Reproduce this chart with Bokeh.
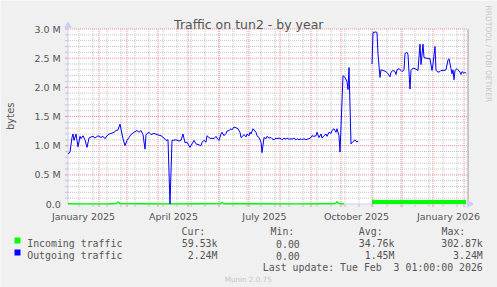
import math
import pandas as pd
from bokeh.plotting import figure
from bokeh.models import Range1d, Label, BoxAnnotation
from bokeh.core.properties import value
from bokeh.embed import file_html
from bokeh.resources import INLINE

# ---------------- data ----------------
out_dates_1 = [
    "2025-01-01", "2025-01-03", "2025-01-05", "2025-01-06", "2025-01-07", "2025-01-09", "2025-01-11", "2025-01-13",
    "2025-01-14", "2025-01-16", "2025-01-18", "2025-01-20", "2025-01-22", "2025-01-24", "2025-01-26", "2025-01-28", "2025-01-31",
    "2025-02-03", "2025-02-05", "2025-02-07", "2025-02-09", "2025-02-11", "2025-02-13", "2025-02-16", "2025-02-18",
    "2025-02-20", "2025-02-22", "2025-02-24", "2025-02-25", "2025-02-27",
    "2025-03-01", "2025-03-03", "2025-03-05", "2025-03-08", "2025-03-11", "2025-03-13", "2025-03-15", "2025-03-17",
    "2025-03-19", "2025-03-20", "2025-03-23", "2025-03-25", "2025-03-28", "2025-03-31",
    "2025-04-04", "2025-04-07", "2025-04-09", "2025-04-11", "2025-04-13", "2025-04-15", "2025-04-19", "2025-04-22",
    "2025-04-24", "2025-04-26", "2025-04-28", "2025-04-30",
    "2025-05-03", "2025-05-05", "2025-05-07", "2025-05-09", "2025-05-11", "2025-05-14", "2025-05-15", "2025-05-17",
    "2025-05-19", "2025-05-20", "2025-05-22", "2025-05-24", "2025-05-25", "2025-05-27", "2025-05-29", "2025-05-30",
    "2025-06-01", "2025-06-03", "2025-06-04", "2025-06-06", "2025-06-08", "2025-06-09", "2025-06-11", "2025-06-13",
    "2025-06-14", "2025-06-16", "2025-06-19", "2025-06-20", "2025-06-22", "2025-06-23", "2025-06-24", "2025-06-26",
    "2025-06-28", "2025-06-29",
    "2025-07-01", "2025-07-02", "2025-07-03", "2025-07-05", "2025-07-08", "2025-07-09", "2025-07-11", "2025-07-13",
    "2025-07-14", "2025-07-16", "2025-07-18", "2025-07-19", "2025-07-21", "2025-07-23", "2025-07-24", "2025-07-26",
    "2025-07-28", "2025-07-29", "2025-07-31",
    "2025-08-02", "2025-08-03", "2025-08-05", "2025-08-07", "2025-08-08", "2025-08-10", "2025-08-12", "2025-08-13",
    "2025-08-15", "2025-08-17", "2025-08-18", "2025-08-20", "2025-08-22", "2025-08-23", "2025-08-25", "2025-08-27",
    "2025-08-28", "2025-08-30",
    "2025-09-01", "2025-09-02", "2025-09-04", "2025-09-06", "2025-09-07", "2025-09-09", "2025-09-11", "2025-09-12",
    "2025-09-14", "2025-09-16", "2025-09-17", "2025-09-19", "2025-09-21", "2025-09-22", "2025-09-24", "2025-09-26",
    "2025-09-27", "2025-09-29", "2025-09-30",
    "2025-10-03", "2025-10-05", "2025-10-07", "2025-10-08", "2025-10-09", "2025-10-11", "2025-10-13", "2025-10-15",
    "2025-10-17", "2025-10-18",
]
out_mbytes_1 = [
    0.86, 0.89, 1.14, 1.20, 1.09, 1.20, 0.98, 1.16, 1.12, 1.17, 1.10, 0.97, 1.13, 1.15, 1.16, 1.13, 1.17,
    1.14, 1.16, 1.12, 1.17, 1.20, 1.21, 1.23, 1.26, 1.27, 1.37, 1.20, 1.12, 1.00,
    1.09, 1.14, 1.19, 1.23, 1.26, 1.23, 1.26, 1.19, 0.94, 1.19, 1.23, 1.19, 1.21, 1.19,
    1.17, 1.13, 1.09, 1.10, 0.00, 1.09, 1.10, 1.08, 1.09, 1.20, 1.05, 1.06,
    0.97, 1.03, 1.09, 1.03, 1.02, 1.00, 1.06, 1.09, 1.06, 1.17, 1.14, 1.12, 1.13, 1.12, 1.16, 1.13,
    1.09, 1.20, 1.23, 1.17, 1.21, 1.25, 1.26, 1.29, 1.27, 1.32, 1.30, 1.29, 1.23, 1.14, 1.15, 1.19, 1.15, 1.20,
    1.17, 1.23, 1.20, 1.29, 1.23, 1.17, 1.14, 1.06, 0.88, 1.14, 1.12, 1.16, 1.13, 1.14, 1.12, 1.10, 1.13, 1.12, 1.13,
    1.12, 1.10, 1.13, 1.11, 1.13, 1.11, 1.12, 1.11, 1.13, 1.10, 1.12, 1.10, 1.12, 1.10, 1.12, 1.10, 1.11, 1.12,
    1.14, 1.17, 1.16, 1.17, 1.23, 1.14, 1.20, 1.13, 1.17, 1.20, 1.16, 1.23, 1.21, 1.26, 1.29, 1.23, 1.29, 1.17, 0.89,
    2.20, 2.17, 2.10, 1.96, 2.34, 1.03, 1.07, 1.10, 1.06, 1.08,
]
out_dates_2 = [
    "2025-11-01", "2025-11-02", "2025-11-05", "2025-11-06", "2025-11-07", "2025-11-09", "2025-11-10", "2025-11-12",
    "2025-11-15", "2025-11-17", "2025-11-19", "2025-11-20", "2025-11-22", "2025-11-24", "2025-11-25", "2025-11-26",
    "2025-11-28", "2025-11-30",
    "2025-12-01", "2025-12-03", "2025-12-04", "2025-12-06", "2025-12-07", "2025-12-09", "2025-12-10", "2025-12-12",
    "2025-12-14", "2025-12-16", "2025-12-17", "2025-12-19", "2025-12-20", "2025-12-22", "2025-12-23", "2025-12-25",
    "2025-12-26", "2025-12-28", "2025-12-29", "2025-12-31",
    "2026-01-01", "2026-01-03", "2026-01-04", "2026-01-06", "2026-01-08", "2026-01-09", "2026-01-12", "2026-01-14",
    "2026-01-16", "2026-01-17", "2026-01-19", "2026-01-20", "2026-01-21", "2026-01-22", "2026-01-23", "2026-01-25",
    "2026-01-26", "2026-01-28", "2026-01-29", "2026-01-30",
    "2026-02-01", "2026-02-02", "2026-02-03",
]
out_mbytes_2 = [
    2.40, 2.94, 2.95, 2.94, 2.57, 2.17, 2.30, 2.29, 2.27, 2.23, 2.18, 2.26, 2.29, 2.27, 2.22, 2.30, 2.32, 2.29,
    2.27, 2.30, 2.58, 2.60, 2.56, 1.97, 2.29, 2.33, 2.32, 2.30, 2.29, 2.74, 2.39, 2.74, 2.51, 2.50, 2.50, 2.49, 2.49, 2.29,
    2.40, 2.70, 2.29, 2.26, 2.27, 2.29, 2.29, 2.30, 2.47, 2.49, 2.32, 2.23, 2.30, 2.13, 2.29, 2.32, 2.30, 2.26, 2.22, 2.27,
    2.24, 2.26, 2.24,
]
in_dates_1 = [
    "2025-01-01", "2025-01-20", "2025-02-10", "2025-02-18", "2025-02-20", "2025-02-22", "2025-03-20", "2025-04-13",
    "2025-05-10", "2025-06-02", "2025-06-04", "2025-06-06", "2025-07-10", "2025-08-15", "2025-09-10", "2025-09-25",
    "2025-09-27", "2025-09-29", "2025-10-04",
]
in_mbytes_1 = [
    0.004, 0.003, 0.005, 0.008, 0.035, 0.006, 0.004, 0.002,
    0.004, 0.006, 0.028, 0.005, 0.004, 0.003, 0.005, 0.006,
    0.040, 0.008, 0.005,
]
in_dates_2 = [
    "2025-11-01", "2025-11-05", "2025-11-10", "2025-11-20", "2025-12-01", "2025-12-15",
    "2026-01-01", "2026-01-15", "2026-02-01", "2026-02-03",
]
in_mbytes_2 = [0.064, 0.062, 0.060, 0.058, 0.059, 0.058, 0.060, 0.059, 0.060, 0.0595]

y_tick_mbytes = [0.0, 0.5, 1.0, 1.5, 2.0, 2.5, 3.0]
y_tick_labels = ["0.0", "0.5 M", "1.0 M", "1.5 M", "2.0 M", "2.5 M", "3.0 M"]
x_tick_dates = ["2025-01-16 12:00", "2025-04-16 12:00", "2025-07-16 12:00",
                "2025-10-16 12:00", "2026-01-16 12:00"]
x_tick_labels = ["January 2025", "April 2025", "July 2025", "October 2025", "January 2026"]

series_names = ["Incoming traffic", "Outgoing traffic"]
series_colors = ["#00FF00", "#0000FF"]
stat_headers = ["Cur:", "Min:", "Avg:", "Max:"]
incoming_stats = ["59.53k", "0.00", "34.76k", "302.87k"]
outgoing_stats = ["2.24M", "0.00", "1.45M", "3.24M"]

title_text = "Traffic on tun2 - by year"
y_label_text = "bytes"
side_text = "RRDTOOL / TOBI OETIKER"
last_update_text = "Last update: Tue Feb \u00a03 01:00:00 2026"
footer_text = "Munin 2.0.75"

# ---------------- layout ----------------
W, H = 497, 287
Y0_PX = 203.5                               # canvas y of value 0
PX_PER_M = 175.0 / 3.0                      # px per 1e6 bytes
ORIGIN_PX = 67.5                            # canvas x of 2025-01-01
DAY_MS = 86400000.0
GRID_DAYS = 400


def ms(t):
    return pd.Timestamp(t).value / 1e6


origin = ms("2025-01-01")
x_start = origin - ORIGIN_PX * DAY_MS
x_end = x_start + W * DAY_MS
y_start = -(H - Y0_PX) / PX_PER_M * 1e6
y_end = Y0_PX / PX_PER_M * 1e6


def dx(px):   # canvas x -> data x
    return origin + (px - ORIGIN_PX) * DAY_MS


def dy(px):   # canvas y -> data y
    return (Y0_PX - px) / PX_PER_M * 1e6


grid_l = origin
grid_r = origin + GRID_DAYS * DAY_MS
grid_top = y_tick_mbytes[-1] * 1e6

p = figure(width=W, height=H, x_range=Range1d(x_start, x_end), y_range=Range1d(y_start, y_end),
           x_axis_location=None, y_axis_location=None,
           output_backend="svg", toolbar_location=None, min_border=0)
p.background_fill_color = "#F0F0F0"
p.border_fill_color = "#F0F0F0"
p.outline_line_color = None
p.grid.visible = False

# white canvas
p.quad(left=grid_l, right=grid_r, bottom=0, top=grid_top, fill_color="white", line_color=None)

# grid
minor_y = [v / 10 * 1e6 for v in range(1, 30) if v % 5 != 0]
major_y = [v * 1e6 for v in y_tick_mbytes[1:]]
minor_x = [ms(t) for t in pd.date_range("2025-01-12", pd.Timestamp(grid_r, unit="ms"), freq="14D")]
major_x = [ms(t) for t in pd.date_range("2025-02-01", pd.Timestamp(grid_r, unit="ms"), freq="MS")]
MINOR_C, MAJOR_C = "#C4C4C4", "#EE9090"
p.segment(x0=grid_l, y0=minor_y, x1=grid_r, y1=minor_y, line_color=MINOR_C, line_width=1, line_dash="1 1")
p.segment(x0=minor_x, y0=0, x1=minor_x, y1=grid_top, line_color=MINOR_C, line_width=1, line_dash="1 1")
p.segment(x0=grid_l, y0=major_y, x1=grid_r, y1=major_y, line_color=MAJOR_C, line_width=1, line_dash="1 1")
p.segment(x0=major_x, y0=0, x1=major_x, y1=grid_top, line_color=MAJOR_C, line_width=1, line_dash="1 1")
# small tick stubs on the axes
p.segment(x0=dx(64.5), y0=major_y + minor_y, x1=grid_l, y1=major_y + minor_y,
          line_color=[MAJOR_C] * len(major_y) + [MINOR_C] * len(minor_y), line_width=1)
p.segment(x0=major_x + minor_x, y0=0, x1=major_x + minor_x, y1=dy(206.5),
          line_color=[MAJOR_C] * len(major_x) + [MINOR_C] * len(minor_x), line_width=1)

# right border of canvas
p.segment(x0=grid_r, y0=0, x1=grid_r, y1=grid_top, line_color="#9A9A9A", line_width=1)

# axes with arrows
AXIS_C = "#C9CFF5"
ARROW = 6.5
arrow_off = ARROW / 2 * math.sqrt(3) * 2 / 3      # centre-to-apex distance in px
up_y = dy(21.7 + arrow_off)
right_x = dx(472.7 - arrow_off)
p.segment(x0=grid_l, y0=0, x1=grid_l, y1=up_y, line_color=AXIS_C, line_width=1)
p.segment(x0=grid_l, y0=0, x1=right_x, y1=0, line_color=AXIS_C, line_width=1)
p.scatter(x=[grid_l], y=[up_y], marker="triangle", size=ARROW, fill_color=AXIS_C, line_color=AXIS_C)
p.scatter(x=[right_x], y=[0], marker="triangle", size=ARROW, angle=-math.pi / 2,
          fill_color=AXIS_C, line_color=AXIS_C)

# data
in_y2 = [v * 1e6 for v in in_mbytes_2]
p.varea(x=pd.to_datetime(in_dates_2), y1=0, y2=in_y2, fill_color=series_colors[0])
p.line(x=pd.to_datetime(in_dates_1), y=[v * 1e6 for v in in_mbytes_1], line_color=series_colors[0], line_width=1.4)
p.line(x=pd.to_datetime(in_dates_2), y=in_y2, line_color=series_colors[0], line_width=1)
p.line(x=pd.to_datetime(out_dates_1), y=[v * 1e6 for v in out_mbytes_1], line_color=series_colors[1], line_width=1)
p.line(x=pd.to_datetime(out_dates_2), y=[v * 1e6 for v in out_mbytes_2], line_color=series_colors[1], line_width=1)

# tick labels
TXT = "#555555"
SANS = "DejaVu Sans"
p.text(x=[dx(60.3)] * len(y_tick_mbytes), y=[v * 1e6 for v in y_tick_mbytes], text=y_tick_labels,
       text_align="right", text_baseline="middle", text_font=value(SANS),
       text_font_size=value("9.5px"), text_color=TXT)
p.text(x=[ms(d) for d in x_tick_dates], y=[dy(216.2)] * len(x_tick_dates), text=x_tick_labels,
       text_align="center", text_baseline="alphabetic", text_font=value(SANS),
       text_font_size=value("9.5px"), text_color=TXT)


def text(t, X, Y, size, color=TXT, font=SANS, align="left", baseline="alphabetic", angle=0.0):
    p.add_layout(Label(x=X, y=H - Y, x_units="screen", y_units="screen", text=t,
                       text_font=font, text_font_size=f"{size}px", text_color=color,
                       text_align=align, text_baseline=baseline, angle=angle))


text(title_text, 248.3, 23.5, 12.5, align="center")
text(y_label_text, 10, 115.7, 10, align="center", baseline="middle", angle=math.pi / 2)
text(side_text, 488.3, 53.4, 7.5, color="#C8C8C8", align="center", baseline="middle", angle=-math.pi / 2)

MONO = "DejaVu Sans Mono"
MS = 9.9
header_x = [181, 270, 358.3, 441]
value_right = [217, 299.3, 394, 482.3]
row_base = [231, 243, 255, 267]
for h, x in zip(stat_headers, header_x):
    text(h, x, row_base[0], MS, font=MONO)
for i, (name, stats) in enumerate(zip(series_names, [incoming_stats, outgoing_stats])):
    text(name, 26.7, row_base[i + 1], MS, font=MONO)
    for s, xr in zip(stats, value_right):
        text(s, xr, row_base[i + 1], MS, font=MONO, align="right")
    top = 237 + 12 * i
    p.add_layout(BoxAnnotation(left=14, right=20, top=H - top, bottom=H - (top + 6),
                               left_units="screen", right_units="screen",
                               top_units="screen", bottom_units="screen",
                               fill_color=series_colors[i], fill_alpha=1.0, line_color=None))
text(last_update_text, 482.3, row_base[3], MS, font=MONO, align="right")
text(footer_text, 247.7, 278.7, 7.2, color="#C4C4C4", align="center")

open("out.html", "w").write(file_html(p, INLINE))
